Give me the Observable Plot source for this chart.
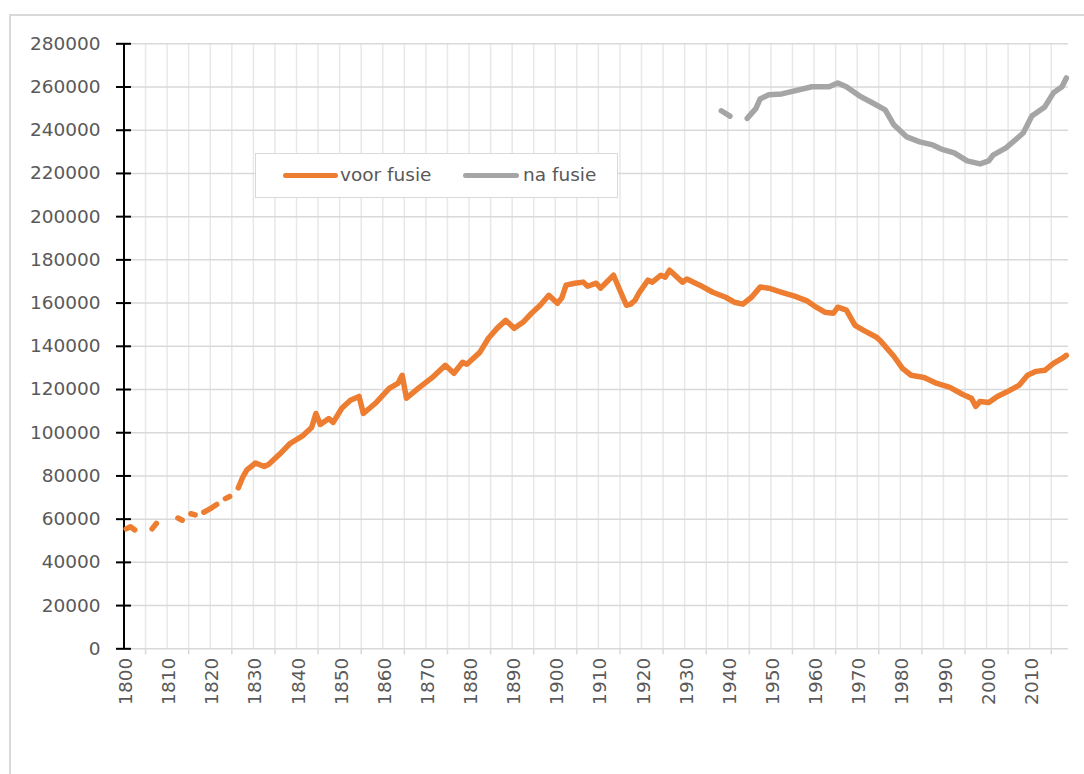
<!DOCTYPE html>
<html><head><meta charset="utf-8">
<script src="https://cdn.jsdelivr.net/npm/d3@7"></script>
<script src="https://cdn.jsdelivr.net/npm/@observablehq/plot@0.6"></script>
<style>
html,body{margin:0;padding:0;background:#fff;overflow:hidden;width:1084px;height:774px}
#frame{position:absolute;left:9px;top:14px;width:1100px;height:800px;border:2px solid #d9d9d9;box-sizing:border-box}
#chart{position:absolute;left:0;top:0}
#legend{position:absolute;left:255px;top:153px;width:363px;height:45px;border:1.5px solid #d9d9d9;background:#fff;box-sizing:border-box;font-family:"DejaVu Sans";font-size:18.5px;color:#595959}
#legend .sw{position:absolute;top:19px;height:5px;border-radius:3px}
#legend .tx{position:absolute;top:0;line-height:42px;white-space:nowrap}
</style>
</head><body>
<div id="frame"></div>
<div id="chart"></div>
<div id="legend">
  <div class="sw" style="left:27px;width:55px;background:#ED7D31"></div>
  <div class="tx" style="left:84px">voor fusie</div>
  <div class="sw" style="left:207px;width:56px;background:#A5A5A5"></div>
  <div class="tx" style="left:267px">na fusie</div>
</div>
<script>
const voorJaren = [
  1800,1801,1802,1803,1806,1807,1808,1812,1813,1814,1815,1816,1817,1818,1819,1820,1821,1822,1823,1824,1825,
  1826,1827,1828,1830,1832,1833,1836,1838,1841,1843,1844,1845,1847,1848,1850,1852,1854,1855,1858,1861,
  1863,1864,1865,1868,1871,1874,1876,1878,1879,1882,1884,1886,1888,1890,1892,1894,1896,1898,1900,1901,
  1902,1904,1906,1907,1909,1910,1913,1915,1916,1917,1918,1919,1921,1922,1924,1925,1926,1929,1930,1933,
  1936,1939,1941,1943,1945,1947,1949,1952,1955,1958,1960,1962,1964,1965,1967,1969,1971,1974,1975,1978,
  1980,1982,1985,1988,1991,1994,1996,1997,1998,2000,2002,2004,2007,2009,2011,2013,2015,2017,2018
];
const voorInwoners = [
  55500,56500,55000,null,55500,58000,null,60500,59500,null,62500,62000,null,63200,64300,65500,66800,null,69500,70500,null,
  74500,79300,82800,86000,84400,85300,90900,95000,98700,102400,108900,103800,106600,104800,111300,115000,116800,108900,114000,120500,
  122800,126600,116000,121000,125600,131200,127500,132600,131700,137200,143700,148300,152000,148300,151100,155300,159000,163600,159900,162300,
  168300,169200,169700,167800,169200,166900,172900,163500,159000,159500,161300,165000,170600,169700,172900,172000,175200,169700,171100,168300,
  165000,162700,160400,159500,162700,167400,166900,165000,163200,160900,158100,155800,155300,158100,156700,149700,147400,144200,142300,135400,
  129800,126600,125600,122800,121000,117700,115900,112200,114500,114000,116800,118700,121900,126600,128400,128900,132100,134400,135800
];
const naJaren = [
  1938,1940,1941,1944,1946,1947,1949,1952,1955,1959,1963,1965,1967,1970,1973,1976,1978,1981,1984,1987,
  1989,1992,1995,1998,2000,2001,2004,2008,2010,2013,2015,2017,2018
];
const naInwoners = [
  249000,246500,null,245500,250000,254500,256400,256800,258200,260100,260100,261900,260100,255900,252700,249400,242500,236900,234600,233200,
  231300,229500,225800,224400,225800,228500,231800,238700,246600,250800,257300,260100,264200
];
const yTicks = [0,20000,40000,60000,80000,100000,120000,140000,160000,180000,200000,220000,240000,260000,280000];
const xLabels = [1800,1810,1820,1830,1840,1850,1860,1870,1880,1890,1900,1910,1920,1930,1940,1950,1960,1970,1980,1990,2000,2010];
const xTickMarks = [1804.5,1814.5,1824.5,1834.5,1844.5,1854.5,1864.5,1874.5,1884.5,1894.5,1904.5,1914.5,1924.5,1934.5,1944.5,1954.5,1964.5,1974.5,1984.5,1994.5,2004.5,2014.5];
const xGrid = [1804.5,1809.5,1814.5,1819.5,1824.5,1829.5,1834.5,1839.5,1844.5,1849.5,1854.5,1859.5,1864.5,1869.5,1874.5,1879.5,1884.5,1889.5,1894.5,1899.5,1904.5,1909.5,1914.5,1919.5,1924.5,1929.5,1934.5,1939.5,1944.5,1949.5,1954.5,1959.5,1964.5,1969.5,1974.5,1979.5,1984.5,1989.5,1994.5,1999.5,2004.5,2009.5,2014.5];
const xDomain = [1799.5, 2018.5];

const voor = voorJaren.map((j, i) => ({jaar: j, inwoners: voorInwoners[i]}));
const na = naJaren.map((j, i) => ({jaar: j, inwoners: naInwoners[i]}));

const chart = Plot.plot({
  width: 1084, height: 720,
  marginLeft: 123.5, marginRight: 16, marginTop: 43.3, marginBottom: 71.7,
  x: {type: "linear", domain: xDomain},
  y: {domain: [0, 280000]},
  style: {fontFamily: "DejaVu Sans", fontSize: "18.5px", color: "#595959", background: "transparent"},
  marks: [
    Plot.gridX(xGrid, {stroke: "#e8e8e8", strokeOpacity: 1, strokeWidth: 1.5}),
    Plot.gridY(yTicks, {stroke: "#d9d9d9", strokeOpacity: 1, strokeWidth: 1.5}),
    Plot.axisX(xTickMarks, {tickSize: 6, tickFormat: () => "", stroke: "#d9d9d9", strokeWidth: 1.5, label: null}),
    Plot.axisX(xLabels, {tickSize: 0, tickRotate: -90, tickPadding: 9, tickFormat: d => String(d), label: null, fill: "#595959", fontSize: 18.5}),
    Plot.axisY(yTicks, {tickSize: 0, tickPadding: 23.5, tickFormat: d => String(d), label: null, fill: "#595959", fontSize: 18.5}),
    Plot.ruleX([xDomain[0]], {stroke: "black", strokeWidth: 2}),
    Plot.ruleY(yTicks, {x1: xDomain[0], x2: xDomain[0], insetLeft: -7.5, insetRight: -7.5, stroke: "black", strokeWidth: 2}),
    Plot.line(na, {x: "jaar", y: "inwoners", stroke: "#A5A5A5", strokeWidth: 5.5, strokeLinecap: "round", strokeLinejoin: "round"}),
    Plot.line(voor, {x: "jaar", y: "inwoners", stroke: "#ED7D31", strokeWidth: 5.5, strokeLinecap: "round", strokeLinejoin: "round"})
  ]
});
document.getElementById("chart").appendChild(chart);
</script>
</body></html>
